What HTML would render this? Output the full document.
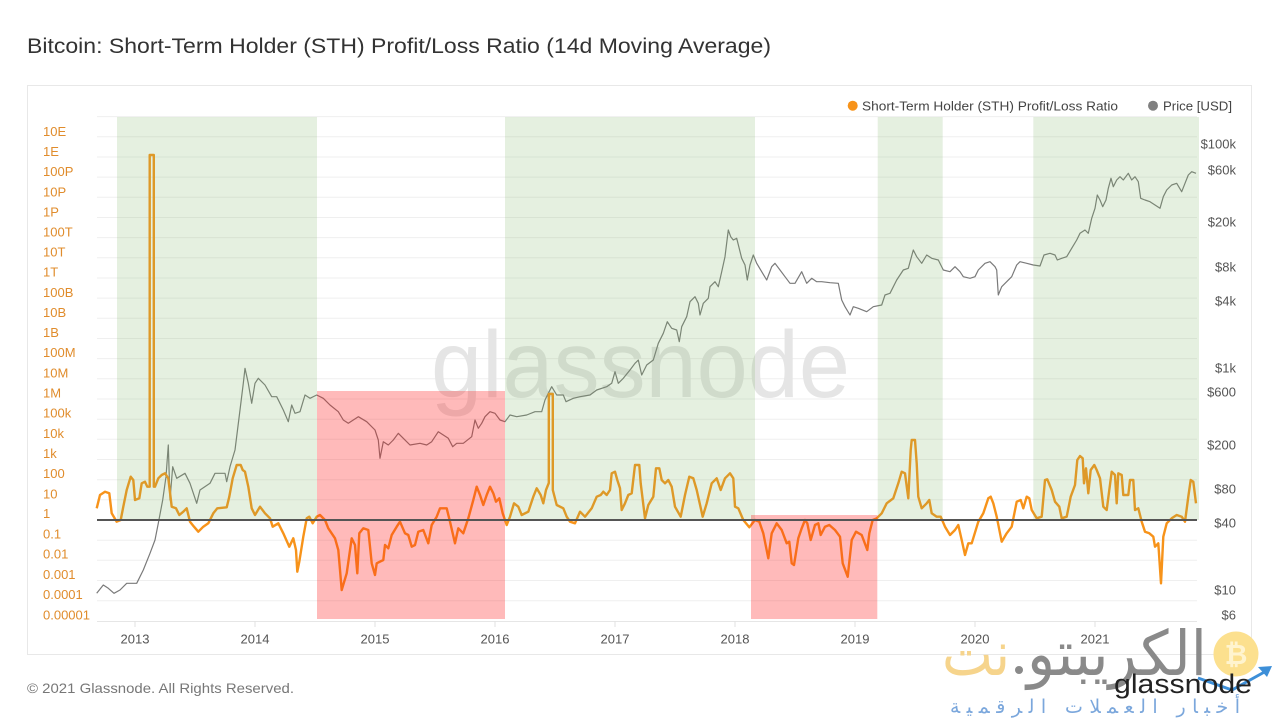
<!DOCTYPE html>
<html><head><meta charset="utf-8"><style>
html,body{margin:0;padding:0;background:#fff;}
svg{display:block;font-family:"Liberation Sans",Arial,sans-serif;}
</style></head><body>
<svg width="1280" height="720" viewBox="0 0 1280 720" xmlns="http://www.w3.org/2000/svg">
<rect width="1280" height="720" fill="#fff"/>
<text x="27" y="53" font-size="21" fill="#333" textLength="744" lengthAdjust="spacingAndGlyphs">Bitcoin: Short-Term Holder (STH) Profit/Loss Ratio (14d Moving Average)</text>
<rect x="27.5" y="85.5" width="1224" height="569" fill="none" stroke="#e8e8e8" stroke-width="1"/>
<!-- legend -->
<circle cx="852.7" cy="105.7" r="5" fill="#f7931a"/>
<text x="862" y="110.3" font-size="13" fill="#444" textLength="256" lengthAdjust="spacingAndGlyphs">Short-Term Holder (STH) Profit/Loss Ratio</text>
<circle cx="1153" cy="105.7" r="5" fill="#808080"/>
<text x="1163" y="110.3" font-size="13" fill="#444" textLength="69" lengthAdjust="spacingAndGlyphs">Price [USD]</text>
<!-- gridlines -->
<g stroke="#efefef" stroke-width="1">
<line x1="97" x2="1197" y1="116.6" y2="116.6"/><line x1="97" x2="1197" y1="136.8" y2="136.8"/><line x1="97" x2="1197" y1="157" y2="157"/><line x1="97" x2="1197" y1="177.1" y2="177.1"/><line x1="97" x2="1197" y1="197.3" y2="197.3"/><line x1="97" x2="1197" y1="217.5" y2="217.5"/><line x1="97" x2="1197" y1="237.6" y2="237.6"/><line x1="97" x2="1197" y1="257.8" y2="257.8"/><line x1="97" x2="1197" y1="278" y2="278"/><line x1="97" x2="1197" y1="298.1" y2="298.1"/><line x1="97" x2="1197" y1="318.3" y2="318.3"/><line x1="97" x2="1197" y1="338.5" y2="338.5"/><line x1="97" x2="1197" y1="358.6" y2="358.6"/><line x1="97" x2="1197" y1="378.8" y2="378.8"/><line x1="97" x2="1197" y1="399" y2="399"/><line x1="97" x2="1197" y1="419.2" y2="419.2"/><line x1="97" x2="1197" y1="439.3" y2="439.3"/><line x1="97" x2="1197" y1="459.5" y2="459.5"/><line x1="97" x2="1197" y1="479.7" y2="479.7"/><line x1="97" x2="1197" y1="499.8" y2="499.8"/><line x1="97" x2="1197" y1="540.2" y2="540.2"/><line x1="97" x2="1197" y1="560.3" y2="560.3"/><line x1="97" x2="1197" y1="580.5" y2="580.5"/><line x1="97" x2="1197" y1="600.7" y2="600.7"/><line x1="97" x2="1197" y1="621.5" y2="621.5" stroke="#e6e6e6"/>
</g>
<g stroke="#e0e0e0" stroke-width="1">
<line x1="135" x2="135" y1="621.5" y2="627"/><line x1="255" x2="255" y1="621.5" y2="627"/><line x1="375" x2="375" y1="621.5" y2="627"/><line x1="495" x2="495" y1="621.5" y2="627"/><line x1="615" x2="615" y1="621.5" y2="627"/><line x1="735" x2="735" y1="621.5" y2="627"/><line x1="855" x2="855" y1="621.5" y2="627"/><line x1="975" x2="975" y1="621.5" y2="627"/><line x1="1095" x2="1095" y1="621.5" y2="627"/>
</g>
<!-- watermark -->
<text x="431" y="397" font-size="95" fill="#e5e5e5" textLength="419" lengthAdjust="spacingAndGlyphs">glassnode</text>
<!-- price -->
<polyline fill="none" stroke="#7a7a7a" stroke-width="1.2" stroke-linejoin="round" points="96.7,593.3 103.3,585 108.3,588.3 114,593.3 120,590 126.7,583.3 136.7,583.3 143.3,570 150,553.3 155,540 158.3,523.3 162.7,500 166,476.7 168.3,445 170,500 172.7,466.7 176.7,478.3 185,473.3 190,483.3 196.7,503.3 200,490 210,483.3 215,473.3 225,473.3 226.7,481.7 230,466.7 235,450 240,410 243.3,383.3 245,368.3 248.3,383.3 251.7,403.3 255,383.3 258.3,378.3 265,385 271.7,396.7 276.7,396.7 283.3,410 288.3,421.7 291.7,405 295,413.3 300,411.7 305,395 310,398.3 316.7,395 323.3,398.3 330,405 338.3,411.7 343.3,420 348.3,423.3 353.3,420 358.3,416.7 366.7,421.7 375,430 378.3,440 380,458.3 383.3,441.7 388.3,445 393.3,440 398.3,433.3 403.3,438.3 410,445 420,443.3 426.7,445 431.7,441.7 438.3,431.7 443.3,435 448.3,438.3 452.7,446.7 456.7,443.3 463.3,443.3 471.7,436.7 475,420 478.3,428.3 481.7,423.3 485,416.7 490,411.7 495,413.3 500,420 505,421.7 510,415 516.7,416.7 526.7,415 535,411.7 541.7,411.7 545,400 548.3,393.3 551.7,386.7 556.7,395 563.3,395 566,401.7 573.3,398.3 580,396.7 590,395 596.7,390 606.7,386.7 611.7,383.3 615,371.7 618.3,383.3 623.3,378.3 630,370 635,363.3 638.3,360 641.7,375 646.7,365 653.3,360 658.3,343.3 663.3,333.3 667.3,321.7 671.7,328.3 676.7,330 679.3,341.7 681.7,326.7 686.7,316.7 690,301.7 695,296.7 698.3,303.3 700,315 703.3,303.3 708.3,298.3 710,286.7 715,281.7 718.3,286.7 721.7,271.7 725,256.7 728.3,230 730.7,236.7 733.3,240 736.7,238.3 741.7,258.3 745,265 747.3,280 750,265 753.3,255 756.7,263.3 761.7,271.7 766.7,280 771.7,266.7 775,263.3 780,270 785,276.7 790,283.3 795,283.3 801.7,271.7 806.7,283.3 811.7,278.3 816.7,281.7 821.7,281.7 830,282.7 838.3,283.3 841.7,300 845,306.7 850,315 853.3,306.7 858.3,308.3 866.7,311.7 873.3,306.7 881.7,305 885,295 890,293.3 896.7,280 903.3,270 908.3,268.3 913.3,250 916.7,256.7 921.7,263.3 926.7,255 931.7,258.3 938.3,260 943.3,270 950,271.7 955,266.7 960,271.7 963.3,276.7 970,278.3 975,276.7 978.3,270 985,263.3 990,261.7 995,266.7 996.7,270 998.3,295 1001.7,286.7 1006.7,281.7 1011.7,276.7 1016.7,265 1020,261.7 1026.7,263.3 1033.3,265 1040,266 1044,255 1050,253.3 1055,255 1057.3,260 1061.7,258.3 1066.7,256.7 1071.7,248.3 1076.7,240 1080,233.3 1085,230 1088.3,233.3 1091.7,218.3 1095,208.3 1097.3,195 1100,200 1102.7,206.7 1106,200 1108.3,188.3 1111,178.3 1113.3,186.7 1116.7,180 1120,176.7 1123.3,180 1128.3,173.3 1131.7,180 1135,176.7 1138.3,181.7 1140.7,198.3 1145,200 1150,201.7 1155,205 1160,208.3 1163.3,196.7 1166.7,190 1171.7,185 1176.7,183.3 1181.7,191.7 1185,183.3 1188.3,175 1191.7,171.7 1196,173.3"/>
<!-- STH ratio -->
<polyline fill="none" stroke="#f7931a" stroke-width="2.4" stroke-linejoin="round" points="96.7,508.3 100,495 105,491.7 109.3,493.3 111.7,513.3 116.7,521.7 120.7,520 123.3,506.7 126.7,490 130.7,476.7 133.3,480 135,500 139.3,498.3 141.7,483.3 145,481.7 147.3,486.7 149.7,486.7 149.7,155 153.8,155 153.8,486.7 155,486.7 158.3,478.3 161.7,475 165,473.3 168.3,478.3 171.7,506.7 176,508.3 179.3,515 183.3,511.7 186.7,508.3 190,521.7 194,526.7 198.3,531.7 203.3,526.7 208.3,523.3 213.3,513.3 217.3,508.3 226.7,507.3 229.3,496.7 232.7,478.3 236.7,465 240.7,465 242.7,470 245,471.7 248.3,486.7 251.7,508.3 255,515 260,506.7 265,513.3 270,518.3 272.7,526.7 278.3,523.3 283.3,533.3 289.3,546.7 293.3,538.3 296,550 297.3,571.7 299.3,561.7 303.3,536.7 306.7,518.3 309.3,516.7 312.7,523.3 316.7,516.7 320,515 325,520 328.3,528.3 335,538.3 338.3,550 341.7,590 346.7,573.3 351.7,538.3 355,545 357.3,573.3 359.3,533.3 363.3,528.3 368.3,530 371.7,563.3 375,575 376.7,563.3 383.3,560 385,545 388.3,548.3 391.7,535 396.7,526.7 400,521.7 405,533.3 408.3,535 411.7,546.7 415,545 418.3,531.7 423.3,530 428.3,543.3 431.7,525 436.7,516.7 440,508.3 446.7,508.3 450,521.7 455,543.3 458.3,528.3 463.3,533.3 468.3,518.3 473.3,500 476.7,486.7 480,495 483.3,505 486.7,495 490,486.7 493.3,493.3 496,501.7 499.3,498.3 502.7,513.3 506.7,525 510,516.7 514,503.3 518.3,506.7 521.7,515 528.3,511.7 533.3,496.7 536.7,488.3 540.7,495 543.3,503.3 546,490 548.8,483 548.8,394 552.8,394 552.8,490 556.7,505 563.3,508.3 566.7,516.7 570,521.7 575,523.3 580,511.7 585,516.7 591.7,508.3 596.7,496.7 600.7,495 603.3,491.7 606.7,495 610,490 611.7,473.3 615,471.7 617.3,480 620,488.3 621.7,510 625,503.3 628.3,495 631.7,493.3 635,465 639.3,465 640.7,483.3 645,518.3 648.3,505 653.3,496.7 656,468.3 659.3,468.3 661.7,480 665,483.3 668.3,480 671.7,486.7 675,506.7 680.7,516.7 685,495 689.3,476.7 693.3,478.3 696.7,490 702.7,516.7 706.7,503.3 711.7,483.3 716.7,478.3 720.7,490 725,478.3 730,473.3 733.3,478.3 735,506.7 738.3,508.3 743.3,520 749.3,527.3 755,520 759.3,521.7 763.3,533.3 768.3,558.3 771.7,533.3 776.7,523.3 781.7,530 786.7,543.3 789.3,541.7 791.7,563.3 794,565 798.3,538.3 801.7,528.3 805,520 807.3,523.3 810.7,540 815,525 818.3,523.3 820.7,535 825,526.7 829.3,525 835,530 840,536.7 842.7,563.3 847.7,576.7 851.7,540 856,531.7 861.7,535 867.3,550 869.3,533.3 872.7,520 876.7,518.3 881.7,513.3 886.7,503.3 893.3,498.3 898.3,483.3 901.7,471.7 905,473.3 908.3,498.3 910.7,450 911.7,440 915,440 916.7,463.3 918.3,496.7 921.7,508.3 926.7,503.3 929.3,500 931.7,513.3 936.7,516.7 940.7,516.7 945,526.7 950,535 955,530 958.3,525 961.7,540 965,555 968.3,543.3 971.7,543.3 978.3,521.7 983.3,513.3 988.3,498.3 990.7,496.7 993.3,503.3 996.7,516.7 1001.7,541.7 1006.7,533.3 1011.7,526.7 1016.7,501.7 1020.7,500 1023.3,508.3 1026.7,496.7 1029.3,498.3 1031.7,510 1036.7,518.3 1041.7,516.7 1045,480 1047.3,479.3 1051.7,490 1055,501.7 1059.3,506.7 1061.7,518.3 1066.7,516.7 1070.7,496.7 1075,485 1077.3,460 1080,456 1082.7,458.3 1084,483.3 1086,468.3 1088.3,493.3 1090.7,470 1094.3,465 1096.7,470 1100,478.3 1103.3,506.7 1106.7,510 1109.3,490 1111.7,471.7 1115,475 1116.7,503.3 1118.3,473.3 1121.7,475 1123.3,495 1128.3,495 1130,480 1133.3,480 1135,510 1138.3,508.3 1141.7,521.7 1145,531.7 1149.3,533.3 1153.3,536.7 1155,546.7 1158.3,543.3 1161,583.3 1163.3,536.7 1166.7,523.3 1171.7,518.3 1176.7,515 1181.7,516.7 1185,521.7 1188.3,496.7 1190.7,480 1193.3,481.7 1196,503.3"/>
<!-- bands overlay -->
<g fill="rgba(125,180,100,0.2)">
<rect x="117" y="117" width="200" height="403"/>
<rect x="505" y="117" width="250" height="403"/>
<rect x="877.7" y="117" width="65" height="403"/>
<rect x="1033.3" y="117" width="165.7" height="403"/>
</g>
<g fill="rgba(255,25,25,0.3)">
<rect x="317" y="391" width="188" height="228"/>
<rect x="751" y="515" width="126.3" height="104"/>
</g>
<line x1="97" x2="1197" y1="520" y2="520" stroke="#555" stroke-width="2"/>
<!-- left axis labels -->
<g font-size="13" fill="#e08c2c">
<text x="43" y="136">10E</text><text x="43" y="156">1E</text><text x="43" y="176">100P</text><text x="43" y="196.5">10P</text><text x="43" y="216.5">1P</text><text x="43" y="236.5">100T</text><text x="43" y="256.5">10T</text><text x="43" y="276.5">1T</text><text x="43" y="297">100B</text><text x="43" y="317">10B</text><text x="43" y="337">1B</text><text x="43" y="357">100M</text><text x="43" y="377.5">10M</text><text x="43" y="397.5">1M</text><text x="43" y="417.5">100k</text><text x="43" y="438">10k</text><text x="43" y="458">1k</text><text x="43" y="478">100</text><text x="43" y="498.5">10</text><text x="43" y="518">1</text><text x="43" y="538.5">0.1</text><text x="43" y="558.5">0.01</text><text x="43" y="579">0.001</text><text x="43" y="599">0.0001</text><text x="43" y="619.5">0.00001</text>
</g>
<!-- right axis labels -->
<g font-size="13" fill="#555" text-anchor="end">
<text x="1236" y="148.7">$100k</text><text x="1236" y="174.7">$60k</text><text x="1236" y="226.7">$20k</text><text x="1236" y="271.7">$8k</text><text x="1236" y="305.4">$4k</text><text x="1236" y="372.7">$1k</text><text x="1236" y="396.7">$600</text><text x="1236" y="449.7">$200</text><text x="1236" y="493.7">$80</text><text x="1236" y="527.7">$40</text><text x="1236" y="594.7">$10</text><text x="1236" y="619.7">$6</text>
</g>
<!-- x labels -->
<g font-size="13" fill="#555" text-anchor="middle">
<text x="135" y="643.7">2013</text><text x="255" y="643.7">2014</text><text x="375" y="643.7">2015</text><text x="495" y="643.7">2016</text><text x="615" y="643.7">2017</text><text x="735" y="643.7">2018</text><text x="855" y="643.7">2019</text><text x="975" y="643.7">2020</text><text x="1095" y="643.7">2021</text>
</g>
<text x="27" y="693" font-size="14" fill="#777" textLength="267" lengthAdjust="spacingAndGlyphs">© 2021 Glassnode. All Rights Reserved.</text>
<!-- bottom-right logo -->
<circle cx="1236" cy="654" r="22.5" fill="#fce08e"/>
<text x="1236" y="664" font-size="28" font-weight="bold" fill="#fff4cf" text-anchor="middle" font-family="DejaVu Sans, sans-serif">₿</text>
<text x="1207" y="675" font-size="62" fill="#8a8a8a" text-anchor="end" font-family="DejaVu Sans, sans-serif" textLength="180" lengthAdjust="spacingAndGlyphs">الكريبتو</text>
<circle cx="1019" cy="670" r="4" fill="#8a8a8a"/>
<text x="942" y="675" font-size="62" fill="#f6d48c" text-anchor="start" font-family="DejaVu Sans, sans-serif" textLength="68" lengthAdjust="spacingAndGlyphs">نت</text>
<path d="M1198,678 L1232,690 L1268,670" fill="none" stroke="#3d8fd8" stroke-width="3"/>
<path d="M1272,666 L1258,667 L1267,677 Z" fill="#3d8fd8"/>
<text x="1114" y="693" font-size="27" fill="#222" textLength="138" lengthAdjust="spacingAndGlyphs">glassnode</text>
<text x="950" y="713" font-size="19" fill="#7ba7dc" text-anchor="start" font-family="DejaVu Sans, sans-serif" textLength="290" lengthAdjust="spacing">أخبار العملات الرقمية</text>
</svg>
</body></html>
